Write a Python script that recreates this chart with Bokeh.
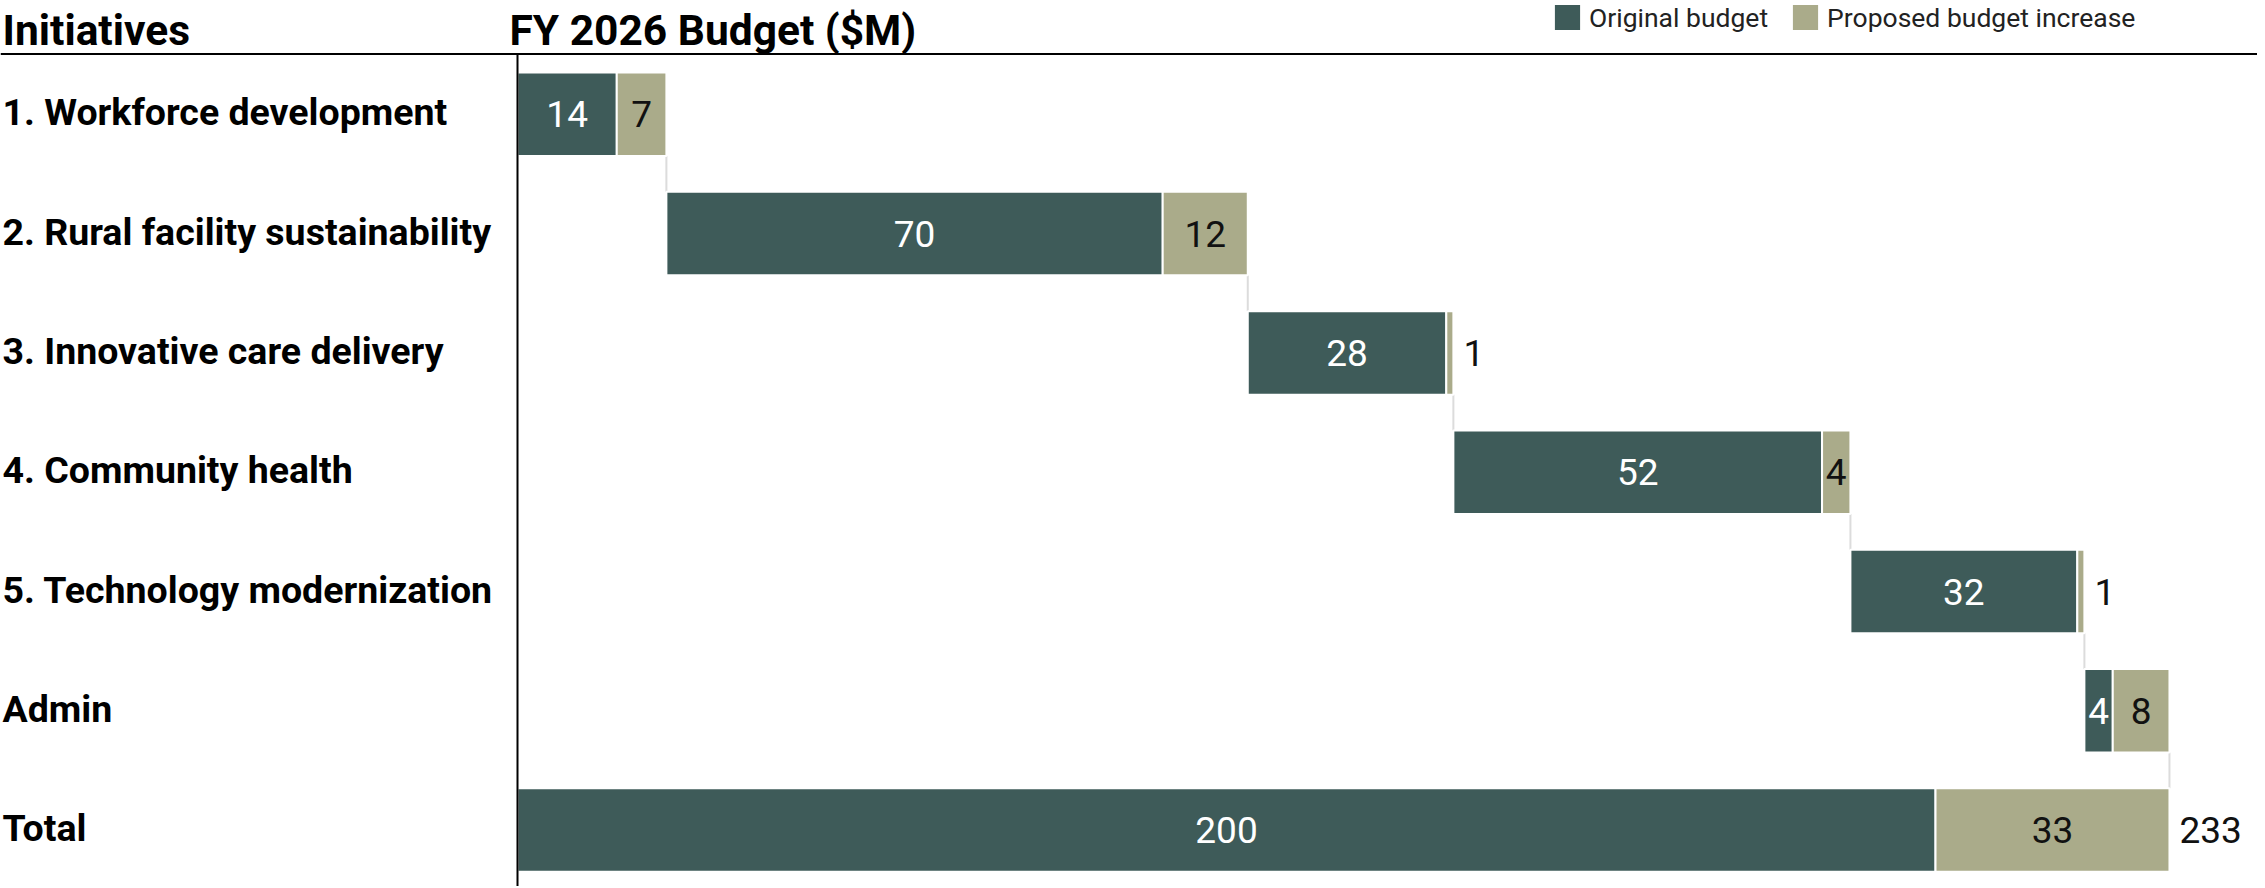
from bokeh.plotting import figure
from bokeh.models import Range1d, Legend, LegendItem, ColumnDataSource, Span
from bokeh.core.properties import value
from bokeh.embed import file_html
from bokeh.resources import INLINE

# ---------------- data ----------------
initiatives = [
    "1.  Workforce development",
    "2. Rural facility sustainability",
    "3. Innovative care delivery",
    "4. Community health",
    "5. Technology modernization",
    "Admin",
]
original = [14, 70, 28, 52, 32, 4]
increase = [7, 12, 1, 4, 1, 8]
total_name = "Total"
series_names = ["Original budget", "Proposed budget increase"]
header_left = "Initiatives"
header_right = "FY 2026 Budget ($M)"

# ---------------- style / layout ----------------
DARK = "#3e5b59"
LIGHT = "#aaab8a"
CONNECT = "#dcdcdc"
FONT = "Roboto"
W, H = 2257, 886
AXIS_PX = 517          # canvas x of the value-0 axis
PX_PER_UNIT = 7.09
FIRST_ROW_PX = 113.8   # canvas y of first row centre
ROW_PX = 119.3
HEADER_LINE_PX = 53.5
HEADER_MID_PX = 29.5
LABEL_LIFT_PX = 2
BAR_H = 0.70

x_start = -AXIS_PX / PX_PER_UNIT
x_end = x_start + W / PX_PER_UNIT
y_top = -FIRST_ROW_PX / ROW_PX
y_bottom = (H - FIRST_ROW_PX) / ROW_PX
header_y = (HEADER_LINE_PX - FIRST_ROW_PX) / ROW_PX
header_text_y = (HEADER_MID_PX - FIRST_ROW_PX) / ROW_PX
label_lift = LABEL_LIFT_PX / ROW_PX

# ---------------- derived geometry via cumulative sums ----------------
cats = initiatives + [total_name]
ys = list(range(len(cats)))
d_left, d_right, l_left, l_right = [], [], [], []
cum = 0
for o, inc in zip(original, increase):
    d_left.append(cum)
    d_right.append(cum + o)
    l_left.append(cum + o)
    l_right.append(cum + o + inc)
    cum = cum + o + inc
tot_o, tot_i = sum(original), sum(increase)
d_left.append(0); d_right.append(tot_o)
l_left.append(tot_o); l_right.append(tot_o + tot_i)
origs = original + [tot_o]
incs = increase + [tot_i]

p = figure(width=W, height=H, x_range=Range1d(x_start, x_end),
           y_range=Range1d(y_bottom, y_top),
           x_axis_location=None, y_axis_location=None,
           toolbar_location=None, output_backend="svg",
           min_border=0, outline_line_color=None)
p.grid.grid_line_color = None
p.background_fill_color = "white"
p.border_fill_color = "white"

# connectors
cx, cy0, cy1 = [], [], []
for i in range(len(initiatives)):
    cx.append(l_right[i]); cy0.append(ys[i] + BAR_H / 2); cy1.append(ys[i + 1] - BAR_H / 2)
p.segment(x0=cx, x1=cx, y0=cy0, y1=cy1, line_color=CONNECT, line_width=2)

src = ColumnDataSource(dict(y=ys, dl=d_left, dr=d_right, ll=l_left, lr=l_right))
r_dark = p.hbar(y="y", left="dl", right="dr", height=BAR_H, source=src,
                fill_color=DARK, line_color="white", line_width=2)
r_light = p.hbar(y="y", left="ll", right="lr", height=BAR_H, source=src,
                 fill_color=LIGHT, line_color="white", line_width=2)

# value labels
in_dark = dict(x=[(a + b) / 2 for a, b in zip(d_left, d_right)], y=ys, t=[str(v) for v in origs])
p.text(x="x", y="y", text="t", source=ColumnDataSource(in_dark), text_color="white",
       text_align="center", text_baseline="middle", text_font=value(FONT),
       text_font_size="37px")
li_x, li_y, li_t, lo_x, lo_y, lo_t = [], [], [], [], [], []
for i, v in enumerate(incs):
    if v >= 2:
        li_x.append((l_left[i] + l_right[i]) / 2); li_y.append(ys[i]); li_t.append(str(v))
    else:
        lo_x.append(l_right[i]); lo_y.append(ys[i]); lo_t.append(str(v))
lo_x.append(l_right[-1]); lo_y.append(ys[-1]); lo_t.append(str(tot_o + tot_i))
p.text(x=li_x, y=li_y, text=li_t, text_color="#111111", text_align="center",
       text_baseline="middle", text_font=value(FONT), text_font_size="37px")
p.text(x=lo_x, y=lo_y, text=lo_t, text_color="#111111", text_align="left",
       x_offset=10, text_baseline="middle", text_font=value(FONT), text_font_size="37px")

# row labels
p.text(x=[x_start] * len(cats), y=[y - label_lift for y in ys], text=cats,
       text_color="black", text_align="left", text_baseline="middle", x_offset=2,
       text_font=value(FONT), text_font_style="bold", text_font_size="37.5px")

# headers
p.add_layout(Span(location=header_y, dimension="width", line_color="black", line_width=2))
p.segment(x0=[0], x1=[0], y0=[header_y], y1=[y_bottom], line_color="black", line_width=2)
p.text(x=[x_start, 0], y=[header_text_y, header_text_y], text=[header_left, header_right],
       x_offset=[2, -8], text_baseline="middle", text_align="left",
       text_color="black", text_font=value(FONT), text_font_style="bold",
       text_font_size="42.5px")

GLYPH = 34
legend = Legend(items=[LegendItem(label=series_names[0], renderers=[r_dark]),
                       LegendItem(label=series_names[1], renderers=[r_light])],
                orientation="horizontal", location=(1550, H - GLYPH),
                glyph_width=GLYPH, glyph_height=GLYPH, label_height=GLYPH,
                label_standoff=5, spacing=20, padding=0, margin=0,
                border_line_alpha=0, background_fill_alpha=0,
                label_text_font=FONT, label_text_font_size="26.5px",
                label_text_color="#222222", label_text_baseline="middle")
p.add_layout(legend)

open("out.html", "w").write(file_html(p, INLINE))
